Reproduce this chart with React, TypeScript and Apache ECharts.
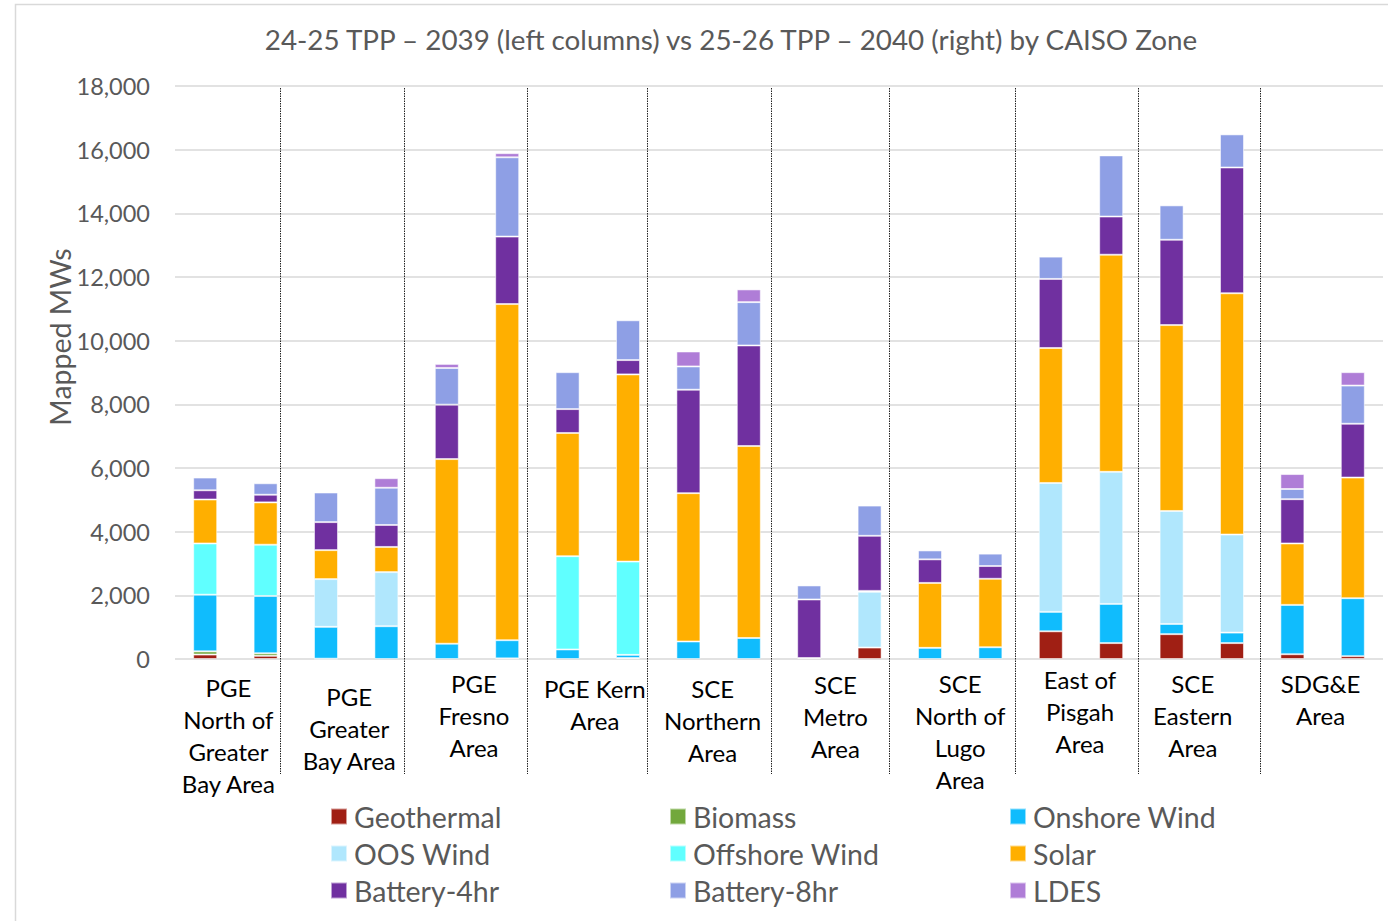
import React, { useEffect, useRef } from "react";
import * as echarts from "echarts";

const BAR_CATEGORIES = [
  "PGE N GBA 2039", "PGE N GBA 2040",
  "PGE GBA 2039", "PGE GBA 2040",
  "PGE Fresno 2039", "PGE Fresno 2040",
  "PGE Kern 2039", "PGE Kern 2040",
  "SCE Northern 2039", "SCE Northern 2040",
  "SCE Metro 2039", "SCE Metro 2040",
  "SCE NOL 2039", "SCE NOL 2040",
  "EOP 2039", "EOP 2040",
  "SCE Eastern 2039", "SCE Eastern 2040",
  "SDG&E 2039", "SDG&E 2040",
];

const ZONE_LABELS = [
  "PGE\nNorth of\nGreater\nBay Area",
  "PGE\nGreater\nBay Area",
  "PGE\nFresno\nArea",
  "PGE Kern\nArea",
  "SCE\nNorthern\nArea",
  "SCE\nMetro\nArea",
  "SCE\nNorth of\nLugo\nArea",
  "East of\nPisgah\nArea",
  "SCE\nEastern\nArea",
  "SDG&E\nArea",
];

// separator positions, in bar-index units
const SEPARATORS = [1.24, 3.29, 5.33, 7.32, 9.37, 11.32, 13.41, 15.45, 17.47];

const geothermal = [140, 100, 0, 0, 0, 0, 0, 0, 0, 0, 0, 360, 0, 0, 870, 500, 780, 500, 150, 90];
const biomass = [100, 80, 10, 0, 0, 20, 0, 30, 0, 0, 0, 0, 0, 0, 0, 0, 0, 0, 0, 0];
const onshoreWind = [1780, 1800, 1000, 1030, 480, 570, 300, 100, 550, 660, 0, 0, 350, 370, 610, 1230, 320, 330, 1550, 1820];
const oosWind = [0, 0, 1500, 1700, 0, 0, 0, 0, 0, 0, 0, 1750, 0, 0, 4050, 4150, 3550, 3080, 0, 0];
const offshoreWind = [1610, 1610, 0, 0, 0, 0, 2930, 2930, 0, 0, 0, 0, 0, 0, 0, 0, 0, 0, 0, 0];
const solar = [1380, 1330, 910, 790, 5800, 10560, 3870, 5880, 4660, 6030, 30, 30, 2040, 2150, 4240, 6820, 5840, 7580, 1930, 3790];
const battery4 = [290, 240, 880, 690, 1710, 2120, 750, 450, 3250, 3160, 1840, 1730, 740, 400, 2170, 1200, 2680, 3950, 1390, 1690];
const battery8 = [400, 360, 930, 1170, 1150, 2490, 1160, 1250, 730, 1360, 440, 950, 280, 390, 700, 1920, 1080, 1040, 320, 1200];
const ldes = [0, 0, 0, 300, 130, 130, 0, 0, 470, 400, 0, 0, 0, 0, 0, 0, 0, 0, 470, 420];

const SERIES = [
  { name: "Geothermal", data: geothermal, color: "#A01F14" },
  { name: "Biomass", data: biomass, color: "#72A83C" },
  { name: "Onshore Wind", data: onshoreWind, color: "#10BCFD" },
  { name: "OOS Wind", data: oosWind, color: "#B0E7FD" },
  { name: "Offshore Wind", data: offshoreWind, color: "#60FFFF" },
  { name: "Solar", data: solar, color: "#FFAF00" },
  { name: "Battery-4hr", data: battery4, color: "#7030A0" },
  { name: "Battery-8hr", data: battery8, color: "#8E9FE5" },
  { name: "LDES", data: ldes, color: "#AF7DD7" },
];

const LEGEND_COLUMNS = [
  ["Geothermal", "OOS Wind", "Battery-4hr"],
  ["Biomass", "Offshore Wind", "Battery-8hr"],
  ["Onshore Wind", "Solar", "LDES"],
];

// label nudges [top, right, left] in px (style only)
const LABEL_NUDGE = [
  [4, 14, 0], [13, 14, 0], [0, 6, 0], [5, 6, 0], [5, 12, 0],
  [1, 8, 0], [0, 0, 0], [-4, 2, 0], [0, 18, 0], [0, 4, 0],
];

const FONT = "Lato, 'Open Sans', sans-serif";
const GREY = "#595959";

export default function App() {
  const ref = useRef<HTMLDivElement>(null);

  useEffect(() => {
    if (!ref.current) return;
    const chart = echarts.init(ref.current, null, { renderer: "svg" });

    const barSeries = SERIES.map((s) => ({
      name: s.name,
      type: "bar",
      stack: "total",
      xAxisIndex: 0,
      yAxisIndex: 0,
      barWidth: 24,
      data: s.data.map((v) => (v === 0 ? null : v)),
      itemStyle: {
        color: s.color,
        borderColor: "rgba(255,255,255,0.55)",
        borderWidth: 1,
      },
      emphasis: { disabled: true },
    }));

    const option: any = {
      animation: false,
      backgroundColor: "#fff",
      textStyle: { fontFamily: FONT },
      title: {
        text: "24-25 TPP \u2013 2039 (left columns) vs 25-26 TPP \u2013 2040 (right) by CAISO Zone",
        left: 726,
        textAlign: "center",
        top: 20,
        textStyle: { fontFamily: FONT, fontSize: 27.8, fontWeight: "normal", color: GREY },
      },
      graphic: [
        {
          type: "rect",
          shape: { x: 15.5, y: 4.5, width: 1400, height: 940 },
          style: { fill: "none", stroke: "#D9D9D9", lineWidth: 1.5 },
          silent: true,
          z: -10,
        },
        {
          type: "text",
          x: 60,
          y: 337,
          rotation: Math.PI / 2,
          silent: true,
          style: {
            text: "Mapped MWs",
            fontFamily: FONT,
            fontSize: 28.5,
            fill: GREY,
            align: "center",
            verticalAlign: "middle",
          },
        },
      ],
      legend: LEGEND_COLUMNS.map((col, i) => ({
        data: col,
        orient: "vertical",
        left: [325, 664, 1004][i],
        top: 797,
        itemWidth: 16,
        itemHeight: 16,
        itemGap: 8,
        icon: "rect",
        selectedMode: false,
        textStyle: {
          fontFamily: FONT,
          fontSize: 28.5,
          lineHeight: 27,
          color: GREY,
          padding: [0, 0, 0, 2],
        },
      })),
      grid: { left: 175, right: 5, top: 86, bottom: 262, containLabel: false },
      xAxis: [
        {
          type: "category",
          data: BAR_CATEGORIES,
          position: "bottom",
          axisLine: { show: false },
          axisTick: { show: false },
          axisLabel: { show: false },
          splitLine: { show: false },
        },
        {
          type: "category",
          data: ZONE_LABELS.map((z, i) => ({
            value: z,
            textStyle: {
              padding: [Math.max(0, LABEL_NUDGE[i][0] + 4), LABEL_NUDGE[i][1], 0, LABEL_NUDGE[i][2]],
            },
          })),
          position: "bottom",
          axisLine: { show: false },
          axisTick: { show: false },
          splitLine: { show: false },
          axisLabel: {
            interval: 0,
            margin: 4,
            fontFamily: FONT,
            fontSize: 24,
            lineHeight: 32,
            color: "#000",
            align: "center",
          },
        },
        {
          type: "value",
          min: -0.5,
          max: 19.5,
          show: false,
        },
      ],
      yAxis: [
        {
          type: "value",
          min: 0,
          max: 18000,
          interval: 2000,
          axisLine: { show: false },
          axisTick: { show: false },
          axisLabel: {
            margin: 25,
            fontFamily: FONT,
            fontSize: 23.5,
            color: GREY,
            formatter: (v: number) => v.toLocaleString("en-US"),
          },
          splitLine: { lineStyle: { color: "#D9D9D9", width: 1.5 } },
        },
      ],
      series: [
        ...barSeries,
        {
          type: "custom",
          name: "separators",
          xAxisIndex: 2,
          yAxisIndex: 0,
          silent: true,
          clip: false,
          z: 5,
          data: SEPARATORS.map((v) => [v, 0]),
          encode: { x: 0, y: 1 },
          renderItem: (params: any, api: any) => {
            const x = api.value(0);
            const top = api.coord([x, 18000]);
            const bottom = api.coord([x, 0]);
            const px = Math.round(top[0]) + 0.5;
            return {
              type: "line",
              shape: { x1: px, y1: top[1] + 2, x2: px, y2: bottom[1] + 115 },
              style: { stroke: "#222", lineWidth: 1, lineDash: [1.5, 1] },
            };
          },
        },
      ],
    };

    chart.setOption(option);
    return () => chart.dispose();
  }, []);

  return (
    <div
      ref={ref}
      style={{ position: "fixed", left: 0, top: 0, width: 1388, height: 921, background: "#fff" }}
    />
  );
}
